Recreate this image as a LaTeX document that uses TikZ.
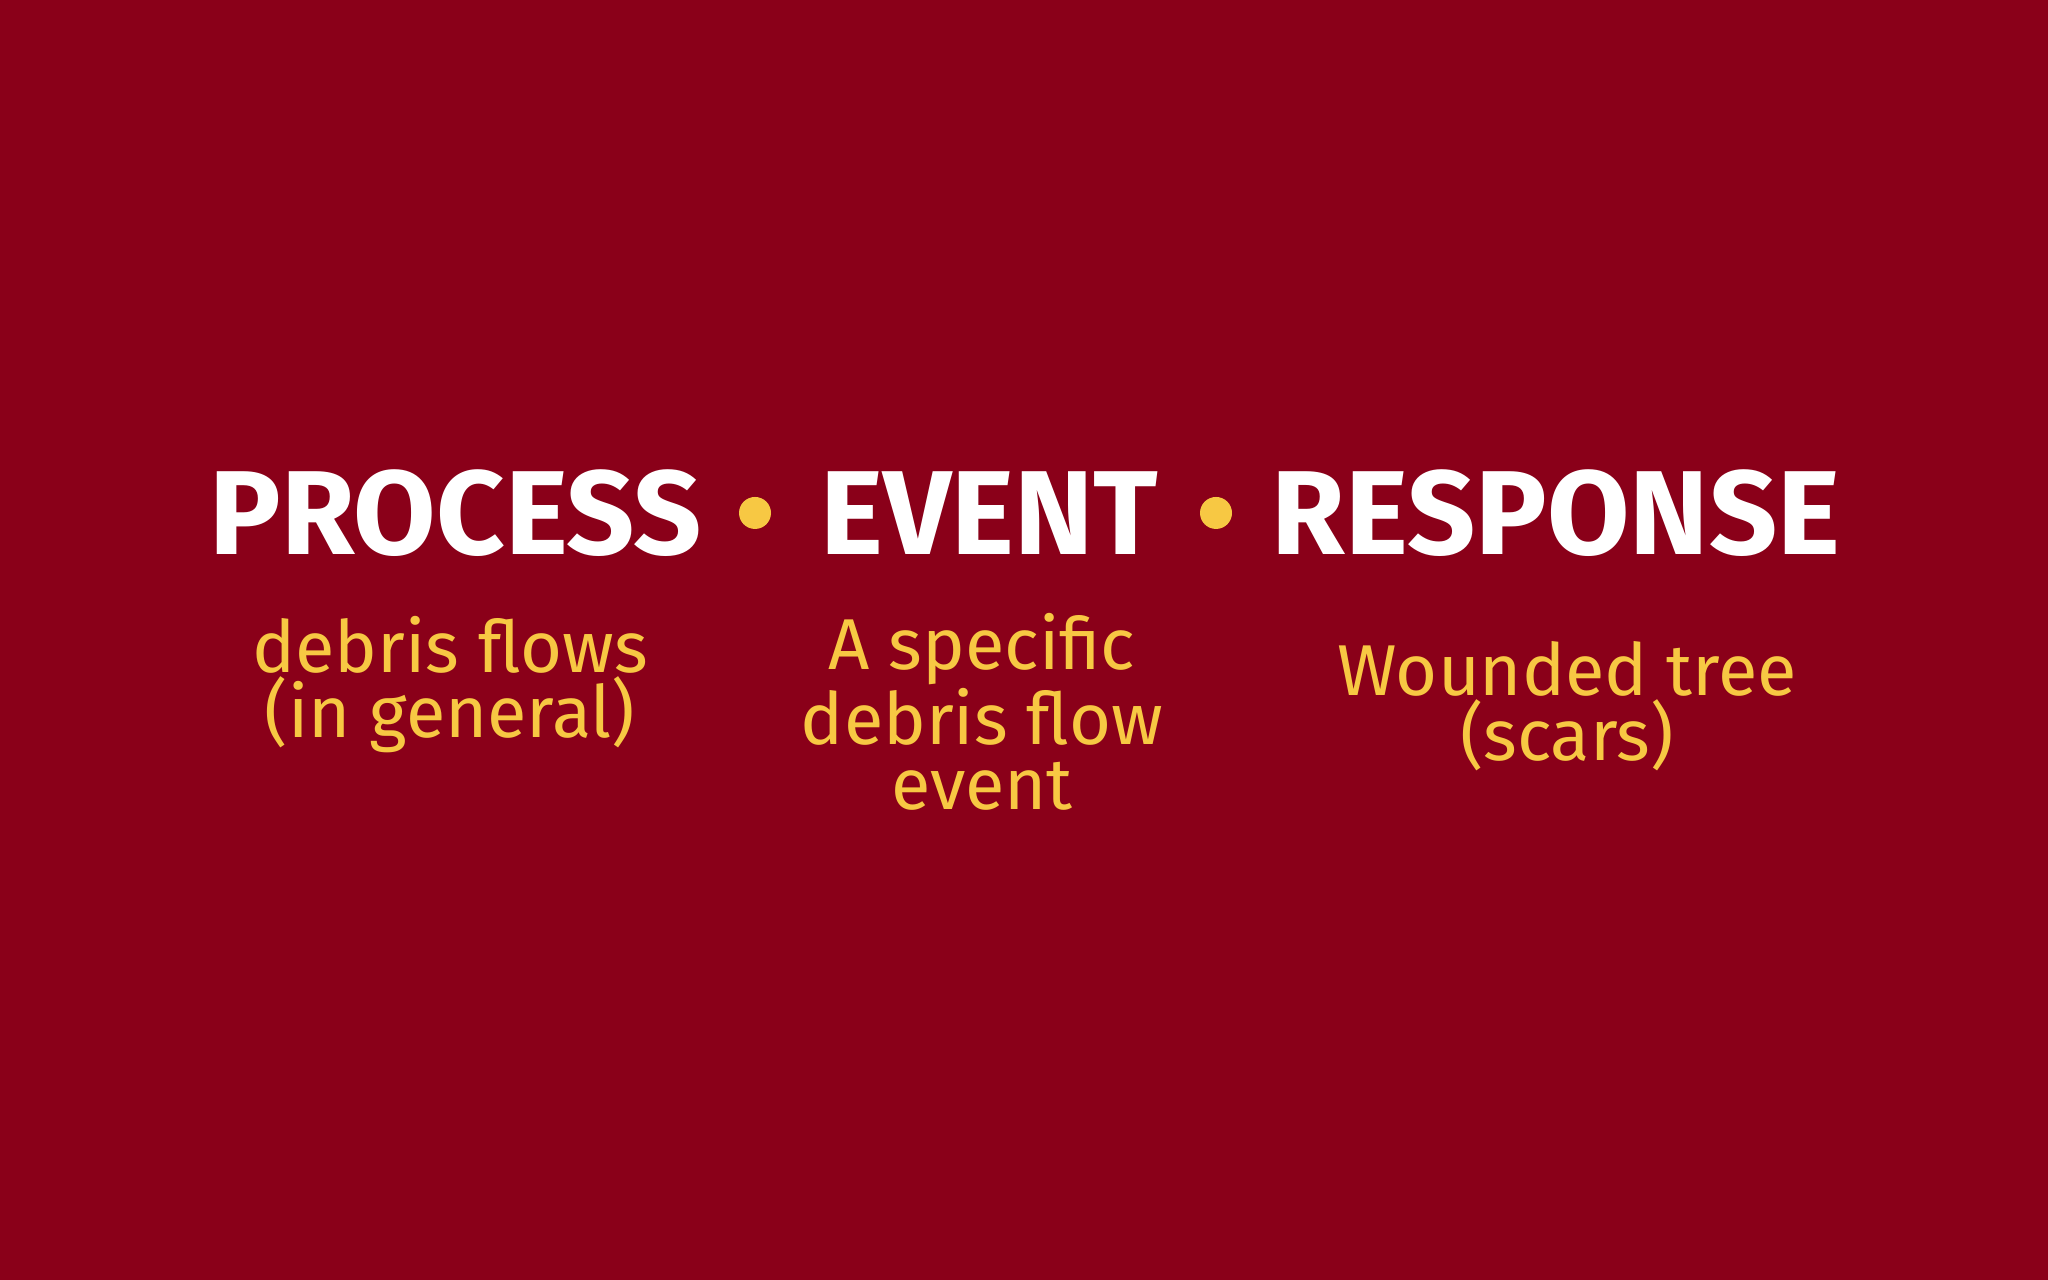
\documentclass[tikz,border=0pt]{standalone}
\usepackage{fontspec}
\setmainfont{Fira Sans}
\definecolor{bg}{HTML}{8A0019}
\definecolor{yel}{HTML}{F7C843}
\begin{document}
\begin{tikzpicture}
\fill[bg] (0,0) rectangle (20.48,12.8);
\useasboundingbox (0,0) rectangle (20.48,12.8);
\tikzset{title/.style={text=white,font=\fontsize{34}{38}\selectfont\bfseries,inner sep=0pt},
 hand/.style={text=yel,font=\fontsize{20.5}{18.5}\selectfont,align=center,inner sep=0pt},
 dot/.style={circle,fill=yel,minimum size=0.32cm,inner sep=0pt}}
\node[title] (p) at (4.56,7.67) {PROCESS};
\node[dot] (d1) at (7.55,7.67) {};
\node[title] (e) at (9.89,7.67) {EVENT};
\node[dot] (d2) at (12.16,7.67) {};
\node[title] (r) at (15.56,7.67) {RESPONSE};
\node[hand] (h1) at (4.5,5.95) {debris flows\\(in general)};
\node[hand] (h2) at (9.82,5.68) {A specific\\debris flow\\event};
\node[hand] (h3) at (15.67,5.74) {Wounded tree\\(scars)};
\end{tikzpicture}
\end{document}
